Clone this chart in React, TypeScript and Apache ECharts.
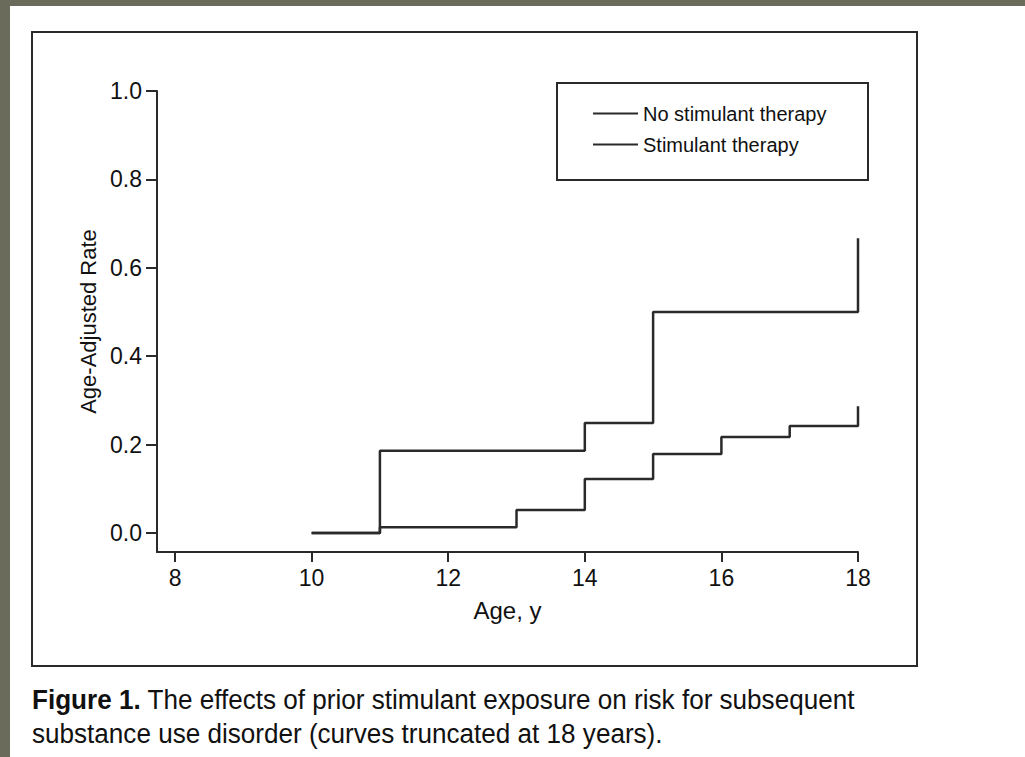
import React, { useEffect, useRef } from "react";
import * as echarts from "echarts";

const FONT = "'Liberation Sans', Arial, sans-serif";

const seriesNames = ["No stimulant therapy", "Stimulant therapy"];
const noStimAges = [10, 11, 14, 15, 18];
const noStimRates = [0, 0.186, 0.249, 0.5, 0.667];
const stimAges = [10, 11, 13, 14, 15, 16, 17, 18];
const stimRates = [0, 0.013, 0.052, 0.122, 0.179, 0.217, 0.242, 0.287];
const xTicks = [8, 10, 12, 14, 16, 18];
const yTicks = [0, 0.2, 0.4, 0.6, 0.8, 1.0];
const xTitle = "Age, y";
const yTitle = "Age-Adjusted Rate";
const captionBold = "Figure 1.";
const captionLine1 = " The effects of prior stimulant exposure on risk for subsequent";
const captionLine2 = "substance use disorder (curves truncated at 18 years).";

const INK = "#2a2a2a";
const TEXT = "#111111";

export default function App() {
  const ref = useRef<HTMLDivElement>(null);
  useEffect(() => {
    if (!ref.current) return;
    const chart = echarts.init(ref.current, undefined, { renderer: "svg" });
    const zip = (xs: number[], ys: number[]) => xs.map((x, i) => [x, ys[i]]);
    chart.setOption({
      animation: false,
      backgroundColor: "#6a6b5b",
      graphic: [
        { type: "rect", z: -10, shape: { x: 10, y: 6, width: 1015, height: 751 }, style: { fill: "#ffffff" } },
        { type: "rect", z: 1, shape: { x: 32, y: 32, width: 885, height: 634 }, style: { fill: "none", stroke: INK, lineWidth: 2 } },
        { type: "rect", z: 1, shape: { x: 557, y: 83, width: 311, height: 97 }, style: { fill: "none", stroke: INK, lineWidth: 2 } },
        {
          type: "text", z: 1, x: 32, y: 700, scaleX: 0.932,
          style: {
            text: "{b|" + captionBold + "}" + captionLine1,
            fontFamily: FONT, fontSize: 28, fill: TEXT, verticalAlign: "middle",
            rich: { b: { fontFamily: FONT, fontSize: 28, fontWeight: "bold", fill: TEXT } },
          },
        },
        {
          type: "text", z: 1, x: 32, y: 734, scaleX: 0.932,
          style: { text: captionLine2, fontFamily: FONT, fontSize: 28, fill: TEXT, verticalAlign: "middle" },
        },
      ],
      legend: {
        orient: "vertical",
        left: 593,
        top: 103,
        padding: 0,
        itemWidth: 45,
        itemHeight: 21,
        itemGap: 10,
        icon: "path://M0,0 L45,0 L45,2 L0,2 Z",
        itemStyle: { color: INK },
        textStyle: { fontFamily: FONT, fontSize: 20, color: TEXT, lineHeight: 21 },
        data: seriesNames,
      },
      grid: { left: 157, top: 91, width: 701, height: 461, containLabel: false },
      xAxis: {
        type: "value",
        min: 7.736,
        max: 18,
        name: xTitle,
        nameLocation: "middle",
        nameGap: 46,
        nameTextStyle: { fontFamily: FONT, fontSize: 24, color: TEXT },
        axisLine: { onZero: false, lineStyle: { color: INK, width: 2 } },
        axisTick: { customValues: xTicks, length: 10, lineStyle: { color: INK, width: 2 } },
        axisLabel: { customValues: xTicks, margin: 14, fontFamily: FONT, fontSize: 23, color: TEXT },
        splitLine: { show: false },
      },
      yAxis: {
        type: "value",
        min: -0.043,
        max: 1.0,
        name: yTitle,
        nameLocation: "middle",
        nameGap: 58,
        nameTextStyle: { fontFamily: FONT, fontSize: 22, color: TEXT },
        axisLine: { show: true, onZero: false, lineStyle: { color: INK, width: 2 } },
        axisTick: { show: true, customValues: yTicks, length: 11, lineStyle: { color: INK, width: 2 } },
        axisLabel: {
          customValues: yTicks, margin: 15, fontFamily: FONT, fontSize: 23, color: TEXT,
          formatter: (v: number) => v.toFixed(1),
        },
        splitLine: { show: false },
      },
      series: [
        {
          name: seriesNames[0], type: "line", step: "end", symbol: "none",
          data: zip(noStimAges, noStimRates),
          lineStyle: { color: INK, width: 2.5 }, itemStyle: { color: INK },
        },
        {
          name: seriesNames[1], type: "line", step: "end", symbol: "none",
          data: zip(stimAges, stimRates),
          lineStyle: { color: INK, width: 2.5 }, itemStyle: { color: INK },
        },
      ],
    });
    return () => chart.dispose();
  }, []);
  return <div ref={ref} style={{ position: "absolute", left: 0, top: 0, width: 1025, height: 757 }} />;
}
